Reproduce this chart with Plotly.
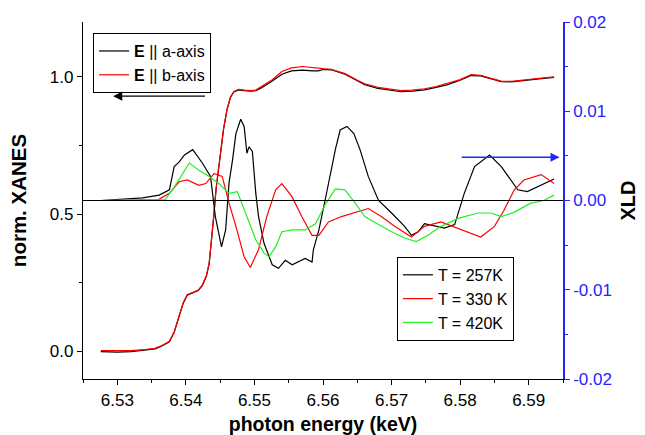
import plotly.graph_objects as go

# ---------------- data ----------------
xanes_energy = [6.5276, 6.5300, 6.5320, 6.5340, 6.5355, 6.5365, 6.5376, 6.5383, 6.5390, 6.5396,
                6.5402, 6.5410, 6.5418, 6.5424, 6.5430, 6.5434, 6.5437, 6.5441, 6.5444, 6.5448,
                6.5451, 6.5455, 6.5460, 6.5465, 6.5470, 6.5477, 6.5485, 6.5495, 6.5502, 6.5510,
                6.5526, 6.5540, 6.5554, 6.5570, 6.5585, 6.5593, 6.5600, 6.5612, 6.5632, 6.5650,
                6.5661, 6.5680, 6.5700, 6.5714, 6.5730, 6.5748, 6.5765, 6.5782, 6.5800, 6.5816,
                6.5830, 6.5845, 6.5860, 6.5875, 6.5893, 6.5915, 6.5937]
xanes_a = [0.000, -0.002, 0.000, 0.005, 0.010, 0.020, 0.035, 0.070, 0.126, 0.175,
           0.205, 0.213, 0.222, 0.240, 0.275, 0.320, 0.390, 0.500, 0.590, 0.670,
           0.740, 0.810, 0.880, 0.925, 0.945, 0.953, 0.950, 0.948, 0.950, 0.960,
           0.985, 1.010, 1.022, 1.025, 1.022, 1.022, 1.027, 1.026, 1.010, 0.985,
           0.972, 0.958, 0.950, 0.946, 0.948, 0.953, 0.962, 0.972, 0.988, 1.005,
           1.004, 0.993, 0.983, 0.982, 0.988, 0.993, 0.998]
xanes_b = [0.003, 0.002, 0.003, 0.007, 0.012, 0.022, 0.037, 0.072, 0.128, 0.177,
           0.207, 0.215, 0.224, 0.242, 0.277, 0.322, 0.392, 0.502, 0.592, 0.672,
           0.742, 0.812, 0.882, 0.927, 0.947, 0.955, 0.952, 0.950, 0.952, 0.964,
           0.990, 1.020, 1.033, 1.038, 1.033, 1.030, 1.030, 1.028, 1.012, 0.988,
           0.975, 0.962, 0.955, 0.950, 0.952, 0.957, 0.965, 0.976, 0.990, 1.008,
           1.006, 0.995, 0.985, 0.984, 0.990, 0.995, 1.000]

xld_257_energy = [6.5276, 6.5337, 6.5361, 6.5376, 6.5383, 6.5390, 6.5398, 6.5410, 6.5424, 6.5436,
                  6.5443, 6.5452, 6.5458, 6.5463, 6.5468, 6.5473, 6.5480, 6.5485, 6.5489, 6.5492,
                  6.5497, 6.5502, 6.5506, 6.5514, 6.5526, 6.5535, 6.5545, 6.5555, 6.5574, 6.5584,
                  6.5586, 6.5594, 6.5603, 6.5610, 6.5618, 6.5625, 6.5635, 6.5645, 6.5654, 6.5666,
                  6.5681, 6.5700, 6.5719, 6.5729, 6.5739, 6.5748, 6.5763, 6.5777, 6.5792, 6.5806,
                  6.5821, 6.5843, 6.5860, 6.5874, 6.5884, 6.5898, 6.5918, 6.5937]
xld_257 = [0.0000, 0.0003, 0.0006, 0.0012, 0.0038, 0.0043, 0.0051, 0.0057, 0.0042, 0.0027,
           -0.0018, -0.0052, -0.0033, 0.0020, 0.0045, 0.0075, 0.0091, 0.0083, 0.0053, 0.0060,
           0.0055, 0.0008, -0.0018, -0.0048, -0.0072, -0.0076, -0.0067, -0.0072, -0.0065, -0.0069,
           -0.0055, -0.0033, 0.0000, 0.0027, 0.0057, 0.0079, 0.0083, 0.0075, 0.0057, 0.0027,
           0.0000, -0.0014, -0.0029, -0.0039, -0.0035, -0.0026, -0.0029, -0.0031, -0.0027, 0.0008,
           0.0038, 0.0051, 0.0038, 0.0023, 0.0012, 0.0010, 0.0017, 0.0024]

xld_330_energy = [6.5276, 6.5360, 6.5376, 6.5390, 6.5402, 6.5419, 6.5429, 6.5441, 6.5453, 6.5463,
                  6.5473, 6.5485, 6.5494, 6.5506, 6.5518, 6.5531, 6.5540, 6.5555, 6.5569, 6.5584,
                  6.5594, 6.5608, 6.5627, 6.5647, 6.5666, 6.5685, 6.5705, 6.5729, 6.5748, 6.5772,
                  6.5797, 6.5830, 6.5850, 6.5864, 6.5879, 6.5893, 6.5918, 6.5937]
xld_330 = [0.0000, 0.0001, 0.0008, 0.0021, 0.0023, 0.0017, 0.0019, 0.0030, 0.0027, -0.0003,
           -0.0029, -0.0063, -0.0075, -0.0055, -0.0018, 0.0012, 0.0019, 0.0004, -0.0018, -0.0039,
           -0.0039, -0.0024, -0.0018, -0.0013, -0.0009, -0.0018, -0.0029, -0.0041, -0.0029, -0.0024,
           -0.0031, -0.0041, -0.0029, -0.0011, 0.0012, 0.0023, 0.0029, 0.0019]

xld_420_energy = [6.5276, 6.5370, 6.5383, 6.5395, 6.5405, 6.5419, 6.5434, 6.5448, 6.5463, 6.5475,
                  6.5487, 6.5502, 6.5514, 6.5521, 6.5531, 6.5540, 6.5555, 6.5574, 6.5589, 6.5603,
                  6.5618, 6.5632, 6.5647, 6.5661, 6.5681, 6.5700, 6.5719, 6.5736, 6.5753, 6.5772,
                  6.5797, 6.5826, 6.5845, 6.5860, 6.5879, 6.5903, 6.5922, 6.5937]
xld_420 = [0.0000, 0.0001, 0.0015, 0.0030, 0.0042, 0.0034, 0.0027, 0.0019, 0.0008, 0.0010,
           -0.0014, -0.0044, -0.0059, -0.0063, -0.0052, -0.0035, -0.0033, -0.0033, -0.0026, -0.0005,
           0.0013, 0.0012, -0.0003, -0.0018, -0.0027, -0.0035, -0.0042, -0.0046, -0.0039, -0.0029,
           -0.0020, -0.0014, -0.0014, -0.0018, -0.0013, -0.0003, 0.0000, 0.0006]

x_ticks = [6.53, 6.54, 6.55, 6.56, 6.57, 6.58, 6.59]
y_ticks = [0.0, 0.5, 1.0]
y2_ticks = [-0.02, -0.01, 0.0, 0.01, 0.02]

# ---------------- figure ----------------
FONT = "Liberation Sans, Arial, sans-serif"
BLUE = "#2424ff"
LW = 1.2
X_RANGE = [6.525, 6.595]

fig = go.Figure()
fig.add_trace(go.Scatter(x=xanes_energy, y=xanes_a, mode="lines", name="<b>E</b> || a-axis",
                         line=dict(color="black", width=LW), legend="legend"))
fig.add_trace(go.Scatter(x=xanes_energy, y=xanes_b, mode="lines", name="<b>E</b> || b-axis",
                         line=dict(color="red", width=LW), legend="legend"))
fig.add_trace(go.Scatter(x=xld_257_energy, y=xld_257, mode="lines", name="T = 257K",
                         line=dict(color="black", width=LW), yaxis="y2", legend="legend2"))
fig.add_trace(go.Scatter(x=xld_330_energy, y=xld_330, mode="lines", name="T = 330 K",
                         line=dict(color="red", width=LW), yaxis="y2", legend="legend2"))
fig.add_trace(go.Scatter(x=xld_420_energy, y=xld_420, mode="lines", name="T = 420K",
                         line=dict(color="#22ee22", width=LW), yaxis="y2", legend="legend2"))

# zero line of XLD
fig.add_shape(type="line", xref="paper", x0=0, x1=1, yref="y2", y0=0, y1=0,
              line=dict(color="black", width=1.2))

# arrows
fig.add_annotation(x=6.5294, y=0.93, ax=6.5430, ay=0.93, xref="x", yref="y", axref="x", ayref="y",
                   text="", showarrow=True, arrowhead=2, arrowsize=1.3, arrowwidth=1.4,
                   arrowcolor="black")
fig.add_annotation(x=6.5945, y=0.00484, ax=6.5800, ay=0.00484, xref="x", yref="y2", axref="x",
                   ayref="y2", text="", showarrow=True, arrowhead=2, arrowsize=1.3, arrowwidth=1.4,
                   arrowcolor=BLUE)

TICKFONT = dict(family=FONT, size=17, color="black")
axis_common = dict(showline=True, linecolor="black", linewidth=1.2, ticks="outside",
                   tickcolor="black", ticklen=5, tickwidth=1, showgrid=False, zeroline=False,
                   tickfont=TICKFONT, automargin=False)

fig.update_layout(
    width=645, height=435,
    margin=dict(l=83, r=82, t=22, b=56),
    paper_bgcolor="white", plot_bgcolor="white",
    font=dict(family=FONT, size=16, color="black"),
    xaxis=dict(**axis_common, range=X_RANGE, tickvals=x_ticks, tickformat=".2f",
               minor=dict(dtick=0.005, tick0=6.525, ticks="outside", ticklen=3, tickcolor="black"),
               title=dict(text="<b>photon energy (keV)</b>", font=dict(family=FONT, size=19.5),
                          standoff=8)),
    xaxis2=dict(overlaying="x", side="top", range=X_RANGE, showline=True, linecolor="black",
                linewidth=1.2, ticks="inside", ticklen=6, tickcolor="black", tick0=6.525,
                dtick=0.005, showticklabels=False, showgrid=False, zeroline=False,
                automargin=False),
    yaxis=dict(**axis_common, range=[-0.1, 1.2], tickvals=y_ticks, tickformat=".1f",
               minor=dict(dtick=0.25, tick0=0, ticks="outside", ticklen=3, tickcolor="black"),
               title=dict(text="<b>norm. XANES</b>", font=dict(family=FONT, size=20.5), standoff=17)),
    yaxis2=dict(overlaying="y", side="right", range=[-0.02, 0.02], tickvals=y2_ticks,
                ticktext=[f"{v:.2f}" for v in y2_ticks],
                showline=True, linecolor=BLUE, linewidth=1.5, ticks="outside",
                tickcolor=BLUE, ticklen=5, showgrid=False, zeroline=False, automargin=False,
                tickfont=dict(family=FONT, size=17, color=BLUE),
                minor=dict(dtick=0.005, tick0=0, ticks="outside", ticklen=3, tickcolor=BLUE),
                title=dict(text="<b>XLD</b>", font=dict(family=FONT, size=20, color="black"),
                           standoff=10)),
    legend=dict(x=0.021, y=0.969, xanchor="left", yanchor="top", bgcolor="white",
                bordercolor="black", borderwidth=1, font=dict(family=FONT, size=16),
                tracegroupgap=0),
    legend2=dict(x=0.654, y=0.342, xanchor="left", yanchor="top", bgcolor="white",
                 bordercolor="black", borderwidth=1, font=dict(family=FONT, size=16),
                 tracegroupgap=0),
)

fig.write_html("out.html")
